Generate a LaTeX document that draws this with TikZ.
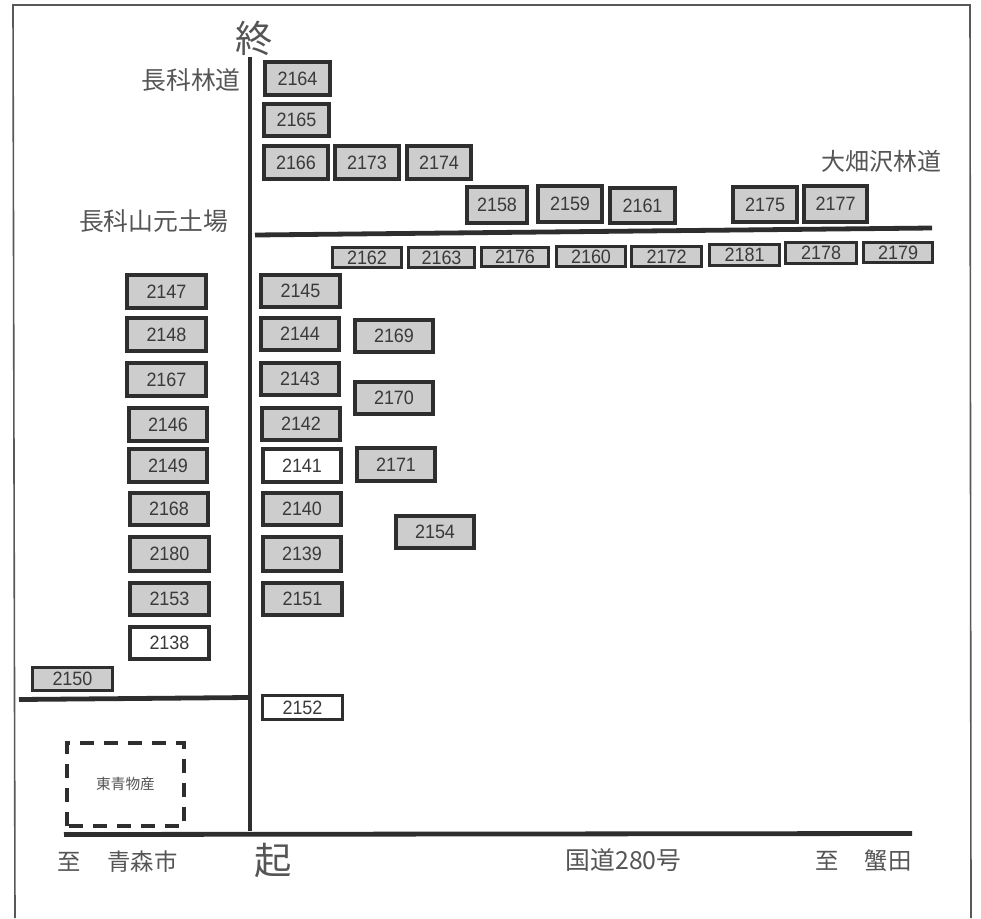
\documentclass[tikz,border=0pt]{standalone}
\usepackage{fontspec}
\setmainfont{Liberation Sans}
\newfontfamily\jp{Noto Sans CJK JP}
\newfontfamily\digits[FakeStretch=0.93]{Liberation Sans}
\definecolor{ink}{HTML}{2E2E2E}
\definecolor{txt}{HTML}{3A3A3A}
\definecolor{ltxt}{HTML}{555555}
\definecolor{fillg}{HTML}{CDCDCD}
\tikzset{
  lot/.style={draw=ink,line width=2.8pt,fill=fillg,text=txt,inner sep=0pt,font=\digits\fontsize{14.5}{15}\selectfont},
  whitelot/.style={lot,fill=white},
  thinlot/.style={lot,line width=2.2pt},
  road/.style={draw=ink,line width=3.6pt},
  framel/.style={draw=ink!80,line width=1.2pt},
  lab/.style={text=ltxt,inner sep=0pt,font=\jp\fontsize{18.6}{20}\selectfont},
  lowlab/.style={text=ltxt,inner sep=0pt,font=\jp\fontsize{17.5}{20}\selectfont},
  biglab/.style={text=ltxt,inner sep=0pt,font=\jp\fontsize{28}{30}\selectfont},
  dashbox/.style={draw=ink,line width=2.6pt,dash pattern=on 10.5pt off 7.5pt},
}
\newcommand{\bx}[6][lot]{\node[#1,minimum width={(#4-#2-3.7)*0.75pt},minimum height={(#5-#3-3.7)*0.75pt}] (n#6) at ({(#2+#4)/2},{(#3+#5)/2}) {#6};}
\begin{document}
\begin{tikzpicture}[x=0.75pt,y=-0.75pt]
\useasboundingbox (0,0) rectangle (981,918);
\fill[white] (0,0) rectangle (981,918);
% frame
\coordinate (fa) at (15,918); \coordinate (fb) at (13,5); \coordinate (fc) at (970,5); \coordinate (fd) at (971,918);
\draw[framel] (fa) -- (fb) -- (fc) -- (fd);
% roads
\coordinate (v1) at (250,57); \coordinate (v2) at (250,831);
\coordinate (h1a) at (255,235); \coordinate (h1b) at (932,228);
\coordinate (h2a) at (19,699.5); \coordinate (h2b) at (248,697.5);
\coordinate (h3a) at (64,834.5); \coordinate (h3b) at (912,833.5);
\draw[road] (v1) -- (v2);
\draw[road] (h1a) -- (h1b);
\draw[road] (h2a) -- (h2b);
\draw[road] (h3a) -- (h3b);
% lots
\bx{263}{60}{332}{97}{2164}
\bx{262}{102}{331}{138}{2165}
\bx{262}{144}{330}{181}{2166}
\bx{333}{144}{401}{181}{2173}
\bx{405}{144}{473}{181}{2174}
\bx{465}{185}{529}{225}{2158}
\bx{536}{184}{604}{224}{2159}
\bx{608}{186}{677}{225}{2161}
\bx{731}{185}{799}{224}{2175}
\bx{802}{184}{869}{224}{2177}
\bx[thinlot]{331}{246}{403}{269}{2162}
\bx[thinlot]{407}{246}{476}{269}{2163}
\bx[thinlot]{480}{246}{550}{268}{2176}
\bx[thinlot]{555}{245}{627}{268}{2160}
\bx[thinlot]{630}{245}{703}{268}{2172}
\bx[thinlot]{708}{243}{781}{267}{2181}
\bx[thinlot]{784}{241}{858}{265}{2178}
\bx[thinlot]{862}{241}{934}{264}{2179}
\bx{125}{273}{208}{310}{2147}
\bx{125}{316}{208}{353}{2148}
\bx{125}{361}{208}{398}{2167}
\bx{127}{406}{209}{443}{2146}
\bx{127}{447}{209}{484}{2149}
\bx{128}{491}{210}{527}{2168}
\bx{128}{535}{211}{573}{2180}
\bx{128}{581}{211}{617}{2153}
\bx[whitelot]{128}{625}{211}{661}{2138}
\bx[thinlot]{31}{666}{114}{692}{2150}
\bx{259}{273}{342}{309}{2145}
\bx{259}{316}{341}{352}{2144}
\bx{353}{318}{435}{354}{2169}
\bx{259}{361}{341}{397}{2143}
\bx{353}{380}{435}{416}{2170}
\bx{260}{406}{342}{442}{2142}
\bx[whitelot]{261}{447}{343}{484}{2141}
\bx{355}{446}{437}{483}{2171}
\bx{261}{491}{343}{527}{2140}
\bx{394}{514}{476}{550}{2154}
\bx{261}{535}{343}{573}{2139}
\bx{261}{581}{344}{617}{2151}
\bx[thinlot,fill=white]{261}{694}{344}{721}{2152}
% company
\coordinate (d1) at (67,826); \coordinate (d2) at (184,743);
\draw[dashbox] (d1) rectangle (d2);
\node[lab,font=\jp\fontsize{11}{12}\selectfont] (toa) at (125.5,784) {東青物産};
% labels
\node[biglab] (owari) at (254,38) {終};
\node[biglab] (oki) at (273,860) {起};
\node[lab] (t1) at (191,80) {長科林道};
\node[lab] (t2) at (153.5,221) {長科山元土場};
\node[lab,font=\jp\fontsize{18}{20}\selectfont] (t3) at (881,161) {大畑沢林道};
\node[lowlab] (t4) at (69,862) {至};
\node[lowlab] (t5) at (142.5,862) {青森市};
\node[lab] (t6) at (623.5,860) {国道280号};
\node[lowlab] (t7) at (827.5,861) {至};
\node[lowlab] (t8) at (888,861) {蟹田};
\end{tikzpicture}
\end{document}
